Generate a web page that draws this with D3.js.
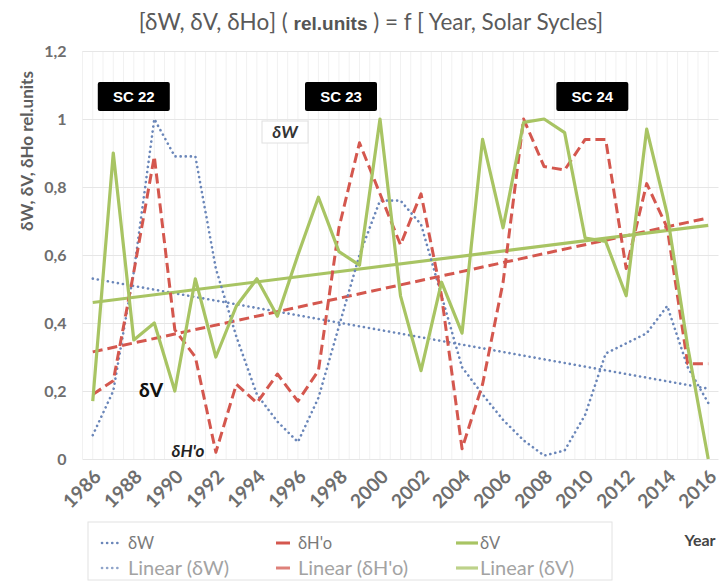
<!DOCTYPE html>
<html>
<head>
<meta charset="utf-8">
<script src="https://cdn.jsdelivr.net/npm/d3@7"></script>
<style>
  html, body { margin: 0; padding: 0; background: #ffffff; }
  svg { display: block; }
</style>
</head>
<body>
<svg id="chart" width="725" height="585"></svg>
<script>
// Years of observation
const years = d3.range(1986, 2017);
// Series values (relative units)
const dW  = [0.07, 0.20, 0.55, 1.00, 0.89, 0.89, 0.56, 0.36, 0.19, 0.11, 0.05, 0.18, 0.39, 0.60, 0.76, 0.76,
             0.69, 0.48, 0.27, 0.19, 0.115, 0.055, 0.01, 0.025, 0.13, 0.31, 0.34, 0.37, 0.45, 0.27, 0.165];
const dHo = [0.19, 0.23, 0.55, 0.89, 0.38, 0.30, 0.02, 0.22, 0.165, 0.25, 0.17, 0.26, 0.68, 0.93, 0.78, 0.63,
             0.78, 0.48, 0.03, 0.22, 0.52, 1.00, 0.86, 0.85, 0.94, 0.94, 0.56, 0.81, 0.68, 0.28, 0.28];
const dV  = [0.17, 0.90, 0.35, 0.40, 0.20, 0.53, 0.30, 0.45, 0.53, 0.42, 0.60, 0.77, 0.61, 0.57, 1.00, 0.48,
             0.26, 0.52, 0.37, 0.94, 0.68, 0.99, 1.00, 0.96, 0.65, 0.64, 0.48, 0.97, 0.72, 0.33, 0.00];
// Axis ticks
const yTicks = [0, 0.2, 0.4, 0.6, 0.8, 1.0, 1.2];
const xTickYears = d3.range(1986, 2017, 2);
// Solar cycle markers (position along the year axis)
const cycles = [
  { label: "SC 22", year: 1988.0 },
  { label: "SC 23", year: 1998.1 },
  { label: "SC 24", year: 2010.35 }
];

const svg = d3.select("#chart");
const FONT = "Lato, 'Open Sans', Arial, sans-serif";

const x = d3.scalePoint().domain(years).range([82.5, 718.5]).padding(0.5);
const y = d3.scaleLinear().domain([0, 1.2]).range([459, 51]);
const step = x.step();
const plotL = 82.5, plotR = 718.5;

const fmt = v => v === 0 ? "0" : (Number.isInteger(v) ? String(v) : String(v).replace(".", ","));

// Vertical grid (category centres and boundaries, very faint)
const vg = svg.append("g");
years.forEach(yr => {
  [x(yr) - step / 2, x(yr)].forEach(px => {
    vg.append("line").attr("x1", px).attr("x2", px).attr("y1", y(1.2)).attr("y2", y(0))
      .attr("stroke", "#f1f1f1").attr("stroke-width", 1);
  });
});

// Horizontal grid + y tick labels
const yAxis = d3.axisLeft(y).tickValues(yTicks).tickFormat(fmt).tickSize(-(plotR - plotL)).tickPadding(16);
const gy = svg.append("g").attr("transform", `translate(${plotL},0)`).call(yAxis);
gy.select(".domain").remove();
gy.selectAll(".tick line").attr("stroke", "#e6e6e6").attr("stroke-width", 1);
gy.selectAll(".tick text").attr("font-family", FONT).attr("font-size", 16).attr("font-weight", "bold")
  .attr("fill", "#6e6e6e");

// X tick labels (rotated)
const xAxis = d3.axisBottom(x).tickValues(xTickYears).tickSize(0).tickPadding(0);
const gx = svg.append("g").attr("transform", `translate(0,${y(0)})`).call(xAxis);
gx.select(".domain").remove();
gx.selectAll(".tick text")
  .attr("font-family", FONT).attr("font-size", 19).attr("font-weight", "bold").attr("fill", "#6e6e6e")
  .attr("text-anchor", "end").attr("dy", 0)
  .attr("transform", "translate(9,19) rotate(-45)");

// Least-squares trend line for a series
function trend(vals) {
  const n = vals.length;
  const xs = d3.range(n);
  const mx = d3.mean(xs), my = d3.mean(vals);
  const b = d3.sum(xs, i => (i - mx) * (vals[i] - my)) / d3.sum(xs, i => (i - mx) ** 2);
  const a = my - b * mx;
  return [{ yr: years[0], v: a }, { yr: years[n - 1], v: a + b * (n - 1) }];
}

const line = d3.line().x(d => x(d.yr)).y(d => y(d.v));
const pts = vals => vals.map((v, i) => ({ yr: years[i], v }));

const C_W = "#6a86b9", C_H = "#d4574e", C_V = "#a8c463";
const styles = {
  W: { stroke: C_W, width: 2.6, dash: "0.1 5", cap: "round" },
  H: { stroke: C_H, width: 3, dash: "10 5", cap: "butt" },
  V: { stroke: C_V, width: 3.2, dash: null, cap: "butt" }
};
function draw(data, s) {
  svg.append("path").datum(data).attr("d", line).attr("fill", "none")
    .attr("stroke", s.stroke).attr("stroke-width", s.width)
    .attr("stroke-dasharray", s.dash).attr("stroke-linecap", s.cap).attr("stroke-linejoin", "round");
}

// Trend lines
draw(trend(dW), styles.W);
draw(trend(dHo), styles.H);
draw(trend(dV), styles.V);
// Series
draw(pts(dW), styles.W);
draw(pts(dHo), styles.H);
draw(pts(dV), styles.V);

// Title
const title = svg.append("text").attr("x", 371).attr("y", 30).attr("text-anchor", "middle")
  .attr("font-family", FONT).attr("font-size", 22.5).attr("fill", "#5a5a5a");
title.append("tspan").text("[δW, δV, δHo] ( ");
title.append("tspan").attr("font-size", 19).attr("font-family", "'Liberation Sans Narrow', Arial, sans-serif")
  .attr("font-weight", "bold").attr("fill", "#555").text("rel.units");
title.append("tspan").text(" ) = f [ Year, Solar Sycles]");

// Y axis title
svg.append("text").attr("transform", "translate(33,151) rotate(-90)").attr("text-anchor", "middle")
  .attr("font-family", FONT).attr("font-size", 17).attr("font-weight", "bold").attr("fill", "#5e5e5e")
  .text("δW, δV, δHo  rel.units");

// Solar cycle labels
cycles.forEach(c => {
  const cx = x(Math.floor(c.year)) + (c.year - Math.floor(c.year)) * step;
  svg.append("rect").attr("x", cx - 36).attr("y", 82).attr("width", 72).attr("height", 29)
    .attr("rx", 2).attr("fill", "#000");
  svg.append("text").attr("x", cx).attr("y", 102).attr("text-anchor", "middle")
    .attr("font-family", "'Liberation Sans', Arial, sans-serif").attr("font-size", 15).attr("font-weight", "bold")
    .attr("fill", "#fff").text(c.label);
});

// Series annotations
svg.append("rect").attr("x", 262).attr("y", 121).attr("width", 46).attr("height", 22)
  .attr("fill", "#fff").attr("stroke", "#e0e0e0");
svg.append("text").attr("x", 285).attr("y", 138).attr("text-anchor", "middle")
  .attr("font-family", FONT).attr("font-size", 17).attr("font-weight", "bold").attr("font-style", "italic")
  .attr("fill", "#333").text("δW");
svg.append("text").attr("x", 151).attr("y", 397).attr("text-anchor", "middle")
  .attr("font-family", FONT).attr("font-size", 19).attr("font-weight", "900").attr("fill", "#111").text("δV");
svg.append("text").attr("x", 188).attr("y", 457).attr("text-anchor", "middle")
  .attr("font-family", FONT).attr("font-size", 17).attr("font-weight", "bold").attr("font-style", "italic")
  .attr("fill", "#222").text("δH'o");

// "Year" axis label
svg.append("text").attr("x", 700).attr("y", 546).attr("text-anchor", "middle")
  .attr("font-family", FONT).attr("font-size", 16).attr("font-weight", "bold").attr("fill", "#444").text("Year");

// Legend
const legend = svg.append("g");
legend.append("rect").attr("x", 88).attr("y", 522).attr("width", 524).attr("height", 58)
  .attr("fill", "#fff").attr("stroke", "#e2e2e2");
const legItems = [
  { label: "δW", s: styles.W, col: 0, row: 0 },
  { label: "δH'o", s: styles.H, col: 1, row: 0 },
  { label: "δV", s: styles.V, col: 2, row: 0 },
  { label: "Linear (δW)", s: styles.W, col: 0, row: 1 },
  { label: "Linear (δH'o)", s: styles.H, col: 1, row: 1 },
  { label: "Linear (δV)", s: styles.V, col: 2, row: 1 }
];
const colX = [102, 276, 456];
legItems.forEach(it => {
  const lx = colX[it.col], ly = 543 + it.row * 25;
  const sym = it.col === 2 ? 22 : (it.col === 1 ? 14 : 18);
  legend.append("line").attr("x1", lx).attr("x2", lx + sym).attr("y1", ly).attr("y2", ly)
    .attr("stroke", it.s.stroke).attr("stroke-width", it.s.width)
    .attr("stroke-dasharray", it.col === 0 ? it.s.dash : null).attr("stroke-linecap", it.s.cap)
    .attr("opacity", it.row === 1 ? 0.75 : 1);
  legend.append("text").attr("x", lx + sym + (it.col === 2 ? 2 : 8)).attr("y", ly + (it.row === 1 ? 7 : 6))
    .attr("font-family", FONT).attr("font-size", it.row === 1 ? 20 : 16.5)
    .attr("fill", it.row === 1 ? "#a3a3a3" : "#7a7a7a").text(it.label);
});
</script>
</body>
</html>
